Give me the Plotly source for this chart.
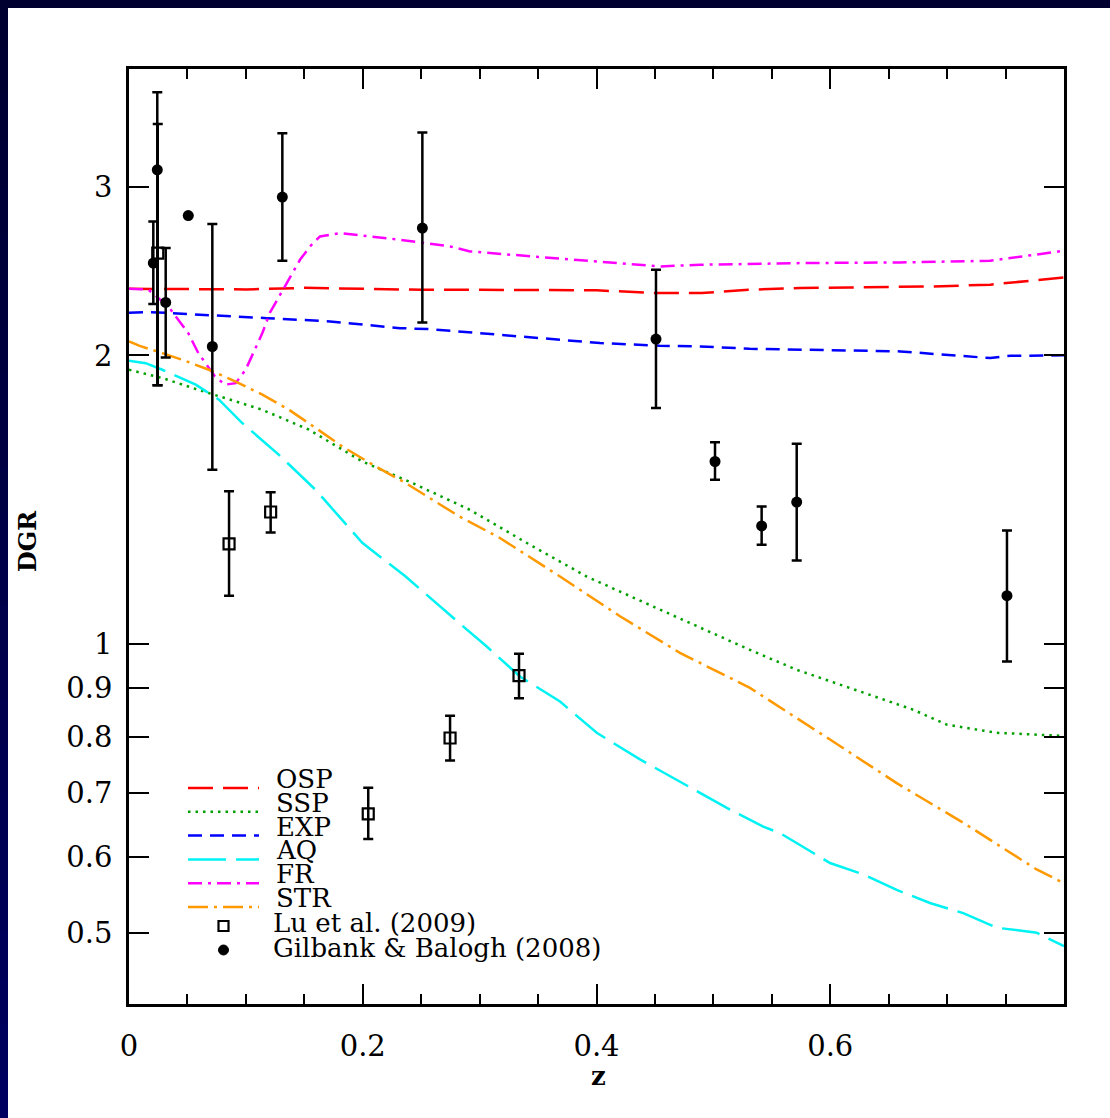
import math
import plotly.graph_objects as go

# ---------------- data ----------------
osp_z = [0.0, 0.05, 0.10, 0.15, 0.20, 0.25, 0.30, 0.35, 0.40, 0.45, 0.49, 0.53, 0.574, 0.617, 0.688, 0.737, 0.79, 0.80]
osp_dgr = [2.347, 2.345, 2.343, 2.352, 2.345, 2.341, 2.341, 2.340, 2.338, 2.323, 2.323, 2.341, 2.351, 2.354, 2.360, 2.370, 2.408, 2.412]

ssp_z = [0.0, 0.0285, 0.0571, 0.0770, 0.1141, 0.1540, 0.1996, 0.2424, 0.2824, 0.2918, 0.3431, 0.3916, 0.4486, 0.5313, 0.5713, 0.6283, 0.6711, 0.6996, 0.7424, 0.80]
ssp_dgr = [1.932, 1.894, 1.845, 1.813, 1.755, 1.673, 1.550, 1.472, 1.397, 1.380, 1.269, 1.176, 1.094, 0.986, 0.940, 0.889, 0.854, 0.824, 0.808, 0.802]

exp_z = [0.0, 0.018, 0.118, 0.172, 0.232, 0.2575, 0.3174, 0.403, 0.454, 0.489, 0.531, 0.574, 0.660, 0.737, 0.754, 0.80]
exp_dgr = [2.215, 2.219, 2.187, 2.170, 2.135, 2.130, 2.101, 2.060, 2.047, 2.043, 2.032, 2.027, 2.019, 1.987, 1.998, 2.000]

aq_z = [0.0, 0.0143, 0.0285, 0.0571, 0.0770, 0.0969, 0.1283, 0.1597, 0.1996, 0.2367, 0.2824, 0.3061, 0.3345, 0.3688,
        0.4002, 0.4372, 0.5142, 0.5427, 0.5570, 0.5998, 0.6283, 0.6569, 0.6853, 0.7138, 0.7424, 0.7766, 0.80]
aq_dgr = [1.974, 1.963, 1.932, 1.864, 1.798, 1.700, 1.575, 1.448, 1.275, 1.176, 1.052, 0.994, 0.925, 0.871,
          0.808, 0.758, 0.672, 0.645, 0.635, 0.591, 0.575, 0.554, 0.537, 0.524, 0.506, 0.500, 0.484]

fr_z = [0.0, 0.0165, 0.0336, 0.0507, 0.0593, 0.0736, 0.0821, 0.0913, 0.0998, 0.1141, 0.1206, 0.1463, 0.1549, 0.1634,
        0.1805, 0.2319, 0.2747, 0.2918, 0.3457, 0.4030, 0.4543, 0.4886, 0.5741, 0.6597, 0.7367, 0.80]
fr_dgr = [2.347, 2.342, 2.249, 2.110, 2.011, 1.901, 1.864, 1.871, 1.932, 2.110, 2.216, 2.516, 2.598, 2.661,
          2.683, 2.640, 2.598, 2.567, 2.536, 2.506, 2.476, 2.486, 2.496, 2.500, 2.510, 2.571]

str_z = [0.0, 0.0086, 0.0285, 0.0456, 0.0684, 0.0913, 0.1141, 0.1369, 0.1597, 0.1825, 0.2111, 0.2367, 0.2824, 0.3174,
         0.3688, 0.4201, 0.4714, 0.5142, 0.5313, 0.5998, 0.6569, 0.7138, 0.7766, 0.80]
str_dgr = [2.068, 2.047, 2.011, 1.979, 1.932, 1.878, 1.820, 1.755, 1.680, 1.607, 1.532, 1.472, 1.359, 1.290,
           1.176, 1.069, 0.979, 0.922, 0.900, 0.795, 0.716, 0.651, 0.582, 0.563]

lu_z = [0.0246, 0.0856, 0.1212, 0.2047, 0.2747, 0.3337]
lu_dgr = [2.557, 1.272, 1.373, 0.665, 0.798, 0.927]
lu_hi = [3.485, 1.443, 1.440, 0.708, 0.842, 0.977]
lu_lo = [1.861, 1.123, 1.307, 0.626, 0.756, 0.878]

gb_z = [0.0208, 0.0242, 0.0314, 0.0507, 0.0713, 0.1312, 0.2510, 0.4509, 0.5014, 0.5413, 0.5713, 0.7512]
gb_dgr = [2.496, 3.123, 2.271, 2.798, 2.043, 2.925, 2.715, 2.080, 1.550, 1.328, 1.406, 1.123]
gb_hi = [2.759, 3.763, 2.588, 2.798, 2.742, 3.410, 3.416, 2.457, 1.623, 1.391, 1.618, 1.313]
gb_lo = [2.262, 1.861, 1.990, 2.798, 1.520, 2.510, 2.164, 1.763, 1.484, 1.269, 1.222, 0.959]

model_names = ["OSP", "SSP", "EXP", "AQ", "FR", "STR"]
obs_names = ["Lu et al. (2009)", "Gilbank &amp; Balogh (2008)"]

x_tickvals = [0, 0.2, 0.4, 0.6]
x_ticktext = ["0", "0.2", "0.4", "0.6"]
y_tickvals = [0.5, 0.6, 0.7, 0.8, 0.9, 1, 2, 3]
y_ticktext = ["0.5", "0.6", "0.7", "0.8", "0.9", "1", "2", "3"]

# ---------------- styling ----------------
W, H = 1110, 1118
ML, MR, MT, MB = 129, 46, 69, 114
PW = W - ML - MR
PH = H - MT - MB

def px(xp):
    return (xp - ML) / PW

def py(yp):
    return (H - MB - yp) / PH

model_z = [osp_z, ssp_z, exp_z, aq_z, fr_z, str_z]
model_dgr = [osp_dgr, ssp_dgr, exp_dgr, aq_dgr, fr_dgr, str_dgr]
model_colors = ["#ff0000", "#00a000", "#0000ff", "#00f2f2", "#ff00ff", "#ff9900"]
model_dash = ["25px,10px", "2.5px,5px", "14px,8px", "38px,10px", "14px,6px,3px,6px", "20px,6px,3px,6px"]

SERIF = "DejaVu Serif"

fig = go.Figure()

for name, zs, ds, c, d in zip(model_names, model_z, model_dgr, model_colors, model_dash):
    fig.add_trace(go.Scatter(x=zs, y=ds, mode="lines", name=name,
                             line=dict(color=c, width=2.5, dash=d), showlegend=False))

fig.add_trace(go.Scatter(
    x=lu_z, y=lu_dgr, mode="markers", name="Lu et al. (2009)", showlegend=False,
    marker=dict(symbol="square-open", size=11, color="black", line=dict(width=2.2, color="black")),
    error_y=dict(type="data", symmetric=False,
                 array=[h - v for h, v in zip(lu_hi, lu_dgr)],
                 arrayminus=[v - l for v, l in zip(lu_dgr, lu_lo)],
                 color="black", thickness=2.5, width=5)))

fig.add_trace(go.Scatter(
    x=gb_z, y=gb_dgr, mode="markers", name="Gilbank & Balogh (2008)", showlegend=False,
    marker=dict(symbol="circle", size=11, color="black"),
    error_y=dict(type="data", symmetric=False,
                 array=[h - v for h, v in zip(gb_hi, gb_dgr)],
                 arrayminus=[v - l for v, l in zip(gb_dgr, gb_lo)],
                 color="black", thickness=2.5, width=5)))

shapes = []
annotations = []

# dark navy frame (top band and left gradient band)
shapes.append(dict(type="rect", xref="paper", yref="paper", x0=px(0), x1=px(W), y0=py(8), y1=py(0),
                   fillcolor="#000030", line=dict(width=0), layer="above"))
nseg = 24
for i in range(nseg):
    y0p = i * H / nseg
    y1p = (i + 1) * H / nseg
    b = int(48 + (96 - 48) * i / (nseg - 1))
    shapes.append(dict(type="rect", xref="paper", yref="paper", x0=px(0), x1=px(8),
                       y0=py(y1p + 1), y1=py(y0p), fillcolor=f"rgb(0,0,{b})",
                       line=dict(width=0), layer="above"))

# legend (drawn in paper coordinates)
leg_y0 = 788
leg_step = 23.8
for i, (name, c, d) in enumerate(zip(model_names, model_colors, model_dash)):
    yl = leg_y0 + i * leg_step
    shapes.append(dict(type="line", xref="paper", yref="paper", x0=px(188), x1=px(259),
                       y0=py(yl), y1=py(yl), line=dict(color=c, width=2.5, dash=d)))
    annotations.append(dict(xref="paper", yref="paper", x=px(274), y=py(yl - 9), text=name,
                            showarrow=False, xanchor="left", yanchor="middle",
                            font=dict(family=SERIF, size=26, color="black")))

# observation legend symbols
sq_y = 926
dot_y = 950
shapes.append(dict(type="rect", xref="paper", yref="paper", x0=px(218.5), x1=px(228.5),
                   y0=py(sq_y + 5), y1=py(sq_y - 5), line=dict(color="black", width=2.2)))
shapes.append(dict(type="circle", xref="paper", yref="paper", x0=px(218.5), x1=px(228.5),
                   y0=py(dot_y + 5), y1=py(dot_y - 5), fillcolor="black", line=dict(color="black", width=1)))
for name, yt in zip(obs_names, [sq_y - 3, dot_y - 2]):
    annotations.append(dict(xref="paper", yref="paper", x=px(271), y=py(yt), text=name,
                            showarrow=False, xanchor="left", yanchor="middle",
                            font=dict(family=SERIF, size=26, color="black")))

# axis titles
annotations.append(dict(xref="paper", yref="paper", x=px(598), y=py(1076), text="<b>z</b>",
                        showarrow=False, xanchor="center", yanchor="middle",
                        font=dict(family=SERIF, size=26, color="black")))
annotations.append(dict(xref="paper", yref="paper", x=px(27), y=py(541), text="<b>DGR</b>",
                        showarrow=False, xanchor="center", yanchor="middle", textangle=-90,
                        font=dict(family=SERIF, size=24, color="black")))

axis_common = dict(showline=True, linecolor="black", linewidth=2.5, mirror="allticks",
                   ticks="inside", tickcolor="black", tickwidth=2, ticklen=20,
                   showgrid=False, zeroline=False,
                   tickfont=dict(family=SERIF, size=29, color="black"))

fig.update_layout(
    width=W, height=H,
    margin=dict(l=ML, r=MR, t=MT, b=MB),
    paper_bgcolor="white", plot_bgcolor="white",
    showlegend=False,
    xaxis=dict(range=[0, 0.8], tickmode="array", tickvals=x_tickvals, ticktext=x_ticktext,
               ticklabelstandoff=14,
               minor=dict(tickmode="linear", tick0=0, dtick=0.05, ticks="inside", ticklen=10,
                          tickwidth=2, tickcolor="black", showgrid=False),
               **axis_common),
    yaxis=dict(type="log", range=[math.log10(0.4213), math.log10(3.978)], tickmode="array",
               tickvals=y_tickvals, ticktext=y_ticktext, ticklabelstandoff=8,
               **axis_common),
    shapes=shapes,
    annotations=annotations,
)

fig.write_html("out.html")
